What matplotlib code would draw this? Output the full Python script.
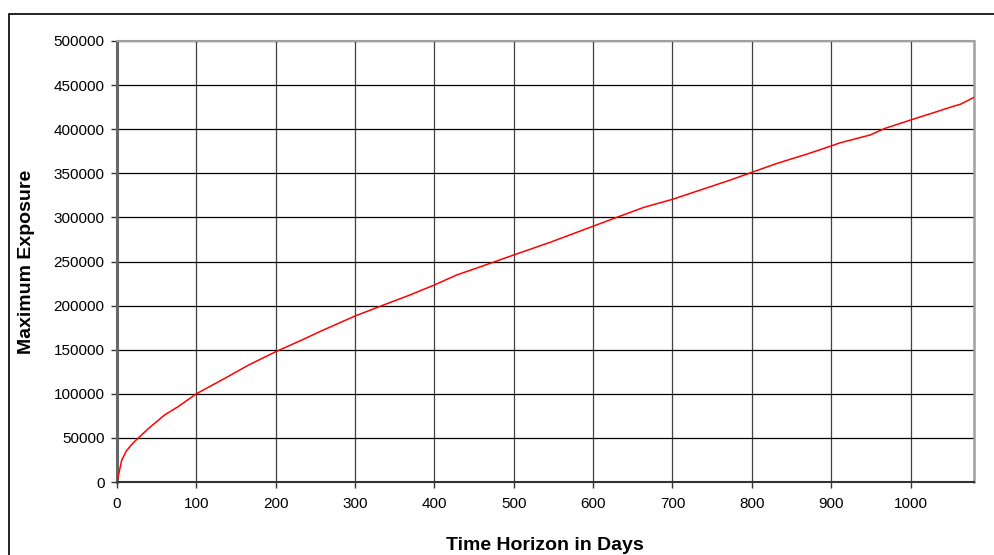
import matplotlib
matplotlib.use("Agg")
import matplotlib.pyplot as plt
from matplotlib.patches import Rectangle

days = [0, 6, 12, 18, 25, 40, 60, 77, 100, 136, 166, 200, 233, 258, 300,
        336, 369, 400, 428, 462, 500, 546, 600, 630, 664, 700, 735, 773, 800,
        832, 870, 900, 911, 949, 968, 1000, 1029, 1054, 1063, 1080]
exposure = [0, 24900, 35500, 42000, 48400, 60900, 76000, 85400,
            100000, 117600, 132700, 147700, 161000, 171500, 188200, 200700,
            212000, 223400, 234700, 245300, 257400, 271800, 290000, 300100,
            311400, 320500, 331000, 342400, 351100, 361300, 371900, 381000,
            384500, 393400, 401000, 410400, 418700, 426000, 428300, 436100]
x_ticks = [0, 100, 200, 300, 400, 500, 600, 700, 800, 900, 1000]
y_ticks = [0, 50000, 100000, 150000, 200000, 250000, 300000, 350000, 400000, 450000, 500000]

plt.rcParams['font.family'] = ['Liberation Sans', 'DejaVu Sans']

fig = plt.figure(figsize=(9.94, 5.55), dpi=100)
W, H = 994, 555
ax = fig.add_axes([117 / W, 1 - 482 / H, (974 - 117) / W, (482 - 41) / H])

# outer frame
fig.patches.append(Rectangle((9 / W, -0.2), 1.2, 1 - 14 / H + 0.2,
                             transform=fig.transFigure, fill=False,
                             edgecolor='black', linewidth=1.2))

ax.plot(days, exposure, color='#ff0000', linewidth=1.1, zorder=3)

ax.set_xlim(0, 1080)
ax.set_ylim(0, 500000)
ax.set_xticks(x_ticks)
ax.set_yticks(y_ticks)
ax.set_xticklabels([str(t) for t in x_ticks])
ax.set_yticklabels([str(t) for t in y_ticks])

ax.grid(axis='y', color='black', linewidth=0.9)
ax.grid(axis='x', color='#404040', linewidth=0.9)
ax.set_axisbelow(True)

ax.spines['left'].set_color('#666666')
ax.spines['left'].set_linewidth(2.2)
ax.spines['bottom'].set_color('#333333')
ax.spines['bottom'].set_linewidth(1.5)
ax.spines['top'].set_color('#a0a0a0')
ax.spines['top'].set_linewidth(1.5)
ax.spines['right'].set_color('#a0a0a0')
ax.spines['right'].set_linewidth(1.8)

ax.tick_params(axis='both', direction='out', length=4, width=1, color='#333333',
               labelsize=11, labelcolor='black')
ax.tick_params(axis='y', pad=5)
ax.tick_params(axis='x', pad=7)

fig.text(27 / W, 1 - 262 / H, 'Maximum Exposure', rotation=90, ha='center', va='center',
         fontsize=14, fontweight='bold')
fig.text(545 / W, 1 - 545 / H, 'Time Horizon in Days', ha='center', va='center',
         fontsize=14, fontweight='bold')

fig.savefig('out.png', dpi=100)
